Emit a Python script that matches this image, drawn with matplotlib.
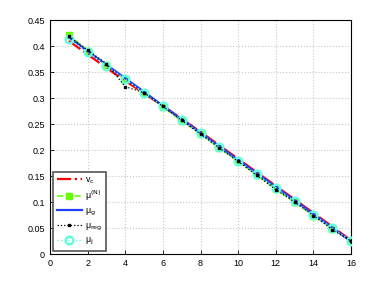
import matplotlib.pyplot as plt

plt.rcParams['font.family'] = ['Liberation Sans', 'DejaVu Sans']

k = list(range(1, 17))
v_c = [0.410, 0.384, 0.358, 0.333, 0.309, 0.285, 0.260, 0.235, 0.209, 0.183,
       0.157, 0.131, 0.105, 0.079, 0.053, 0.026]
mu_N = [0.422, 0.391, 0.364, 0.335, 0.310, 0.283, 0.256, 0.231, 0.204, 0.178,
        0.152, 0.125, 0.100, 0.074, 0.049, 0.025]
mu_g = [0.417, 0.390, 0.364, 0.338, 0.312, 0.285, 0.259, 0.233, 0.207, 0.181,
        0.155, 0.129, 0.103, 0.077, 0.051, 0.024]
mu_reg = [0.419, 0.392, 0.366, 0.322, 0.310, 0.284, 0.257, 0.231, 0.204, 0.178,
          0.151, 0.124, 0.100, 0.074, 0.047, 0.025]
mu_j = [0.413, 0.389, 0.362, 0.336, 0.310, 0.284, 0.258, 0.232, 0.205, 0.179,
        0.153, 0.127, 0.101, 0.075, 0.050, 0.025]

fig = plt.figure(figsize=(3.83, 2.88), dpi=100)
ax = fig.add_axes([0.1305, 0.118, 0.786, 0.8125])

ax.plot(k, v_c, color='red', linestyle='-.', linewidth=1.6, label=r'v$_{\rm c}$', zorder=3)
ax.plot(k, mu_N, color='#66ff00', linestyle='--', linewidth=1.2, marker='s', markersize=4.5,
        markerfacecolor='#66ff00', label=r'μ$^{\rm (N)}$', zorder=2)
ax.plot(k, mu_g, color='#1f3fff', linestyle='-', linewidth=1.6, label=r'μ$_{\rm g}$', zorder=4)
ax.plot(k, mu_reg, color='black', linestyle=':', linewidth=0.9, marker='s', markersize=2,
        label=r'μ$_{\rm reg}$', zorder=6)
ax.plot(k, mu_j, color='#66ffdd', linestyle=':', linewidth=1.0, marker='o', markersize=5.5,
        markerfacecolor='none', markeredgewidth=1.8, label=r'μ$_{\rm j}$', zorder=5)

ax.set_xlim(0, 16)
ax.set_ylim(0, 0.45)
ax.set_xticks(range(0, 17, 2))
ax.set_yticks([0, 0.05, 0.1, 0.15, 0.2, 0.25, 0.3, 0.35, 0.4, 0.45])
ax.set_yticklabels(['0', '0.05', '0.1', '0.15', '0.2', '0.25', '0.3', '0.35', '0.4', '0.45'])
ax.tick_params(direction='in', labelsize=6.5, length=3, width=0.6)
ax.grid(True, linestyle=':', color='#c8c8c8', linewidth=0.8)
for s in ax.spines.values():
    s.set_linewidth(0.8)

leg = ax.legend(loc='lower left', fontsize=6.5, handlelength=2.8, labelspacing=0.35,
                handletextpad=0.35, fancybox=False, framealpha=1, edgecolor='#555555',
                borderpad=0.4, borderaxespad=0.35)
leg.get_frame().set_linewidth(1.2)

fig.savefig('out.png', dpi=100)
